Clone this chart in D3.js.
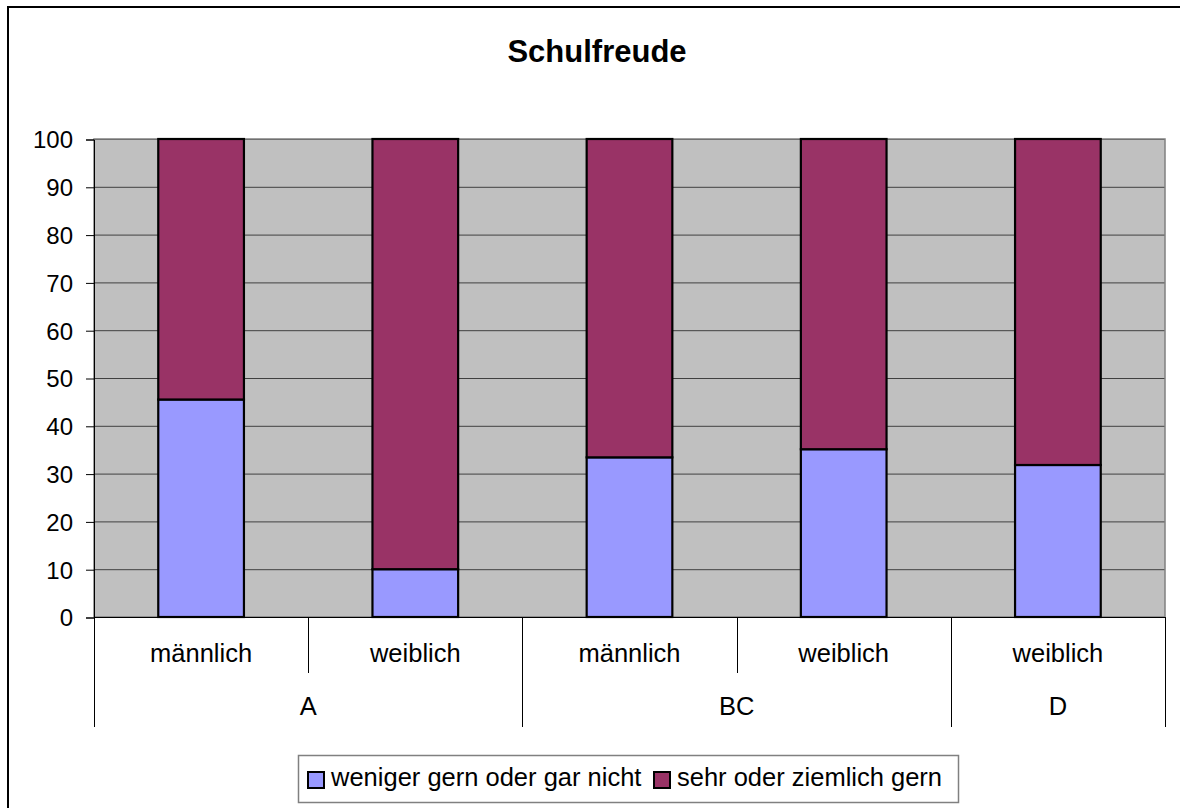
<!DOCTYPE html>
<html><head><meta charset="utf-8">
<script src="https://cdn.jsdelivr.net/npm/d3@7"></script>
<style>body{margin:0;background:#fff}svg{display:block}text{font-family:"Liberation Sans",Arial,sans-serif}</style>
</head><body>
<script>
const title = "Schulfreude";
const categories = ["männlich","weiblich","männlich","weiblich","weiblich"];
const groups = ["A","A","BC","BC","D"];
const seriesNames = ["weniger gern oder gar nicht","sehr oder ziemlich gern"];
const weniger = [45.5, 10, 33.4, 35.1, 31.8];
const sehr = [54.5, 90, 66.6, 64.9, 68.2];
const yTicks = [0,10,20,30,40,50,60,70,80,90,100];
const colors = ["#9999FF","#993366"];

const W = 1180, H = 808;
const svg = d3.select("body").append("svg").attr("width", W).attr("height", H);
svg.append("rect").attr("width", W).attr("height", H).attr("fill", "#fff");
svg.append("rect").attr("x", 8).attr("y", 7).attr("width", W + 10).attr("height", H + 10)
  .attr("fill", "none").attr("stroke", "#000").attr("stroke-width", 2);

const L = 94, R = 1165, T = 139, B = 617;
const x = d3.scaleBand().domain(d3.range(categories.length)).range([L, R]).padding(0);
const y = d3.scaleLinear().domain([0, 100]).range([B, T]);

svg.append("text").attr("x", 597).attr("y", 62).attr("text-anchor", "middle")
  .attr("font-size", 31).attr("font-weight", "bold").text(title);

svg.append("rect").attr("x", L).attr("y", T).attr("width", R - L).attr("height", B - T)
  .attr("fill", "#C0C0C0");

// gridlines
svg.append("g").selectAll("line").data(yTicks).join("line")
  .attr("x1", L).attr("x2", R).attr("y1", d => y(d) + 0.5).attr("y2", d => y(d) + 0.5)
  .attr("stroke", "#404040").attr("stroke-width", 1);

svg.append("rect").attr("x", L).attr("y", T).attr("width", R - L).attr("height", B - T)
  .attr("fill", "none").attr("stroke", "#808080").attr("stroke-width", 1.5);

// y axis
const yAxis = d3.axisLeft(y).tickValues(yTicks).tickSize(8).tickPadding(13);
const ya = svg.append("g").attr("transform", `translate(${L},0.5)`).call(yAxis);
ya.select(".domain").attr("stroke", "#000");
ya.selectAll(".tick line").attr("stroke", "#000");
ya.selectAll("text").attr("font-size", 24).attr("fill", "#000")
  .attr("font-family", "Liberation Sans, Arial, sans-serif").attr("dy", "0.35em");

// stacked bars
const stackData = categories.map((c, i) => ({i, a: weniger[i], b: sehr[i]}));
const stack = d3.stack().keys(["a","b"])(stackData);
const bw = x.bandwidth() * 0.4;
stack.forEach((layer, k) => {
  svg.append("g").selectAll("rect").data(layer).join("rect")
    .attr("x", d => x(d.data.i) + (x.bandwidth() - bw) / 2)
    .attr("y", d => y(d[1]))
    .attr("width", bw)
    .attr("height", d => y(d[0]) - y(d[1]))
    .attr("fill", colors[k]).attr("stroke", "#000").attr("stroke-width", 2.2);
});

// x axis line
svg.append("line").attr("x1", L).attr("x2", R).attr("y1", B + 0.5).attr("y2", B + 0.5)
  .attr("stroke", "#000").attr("stroke-width", 1);

// category labels
svg.append("g").selectAll("text").data(categories).join("text")
  .attr("x", (d, i) => x(i) + x.bandwidth() / 2).attr("y", 662)
  .attr("text-anchor", "middle").attr("font-size", 25.5).text(d => d);

// group spans
const groupSpans = [];
groups.forEach((g, i) => {
  const last = groupSpans[groupSpans.length - 1];
  if (last && last.name === g) last.end = i; else groupSpans.push({name: g, start: i, end: i});
});
svg.append("g").selectAll("text").data(groupSpans).join("text")
  .attr("x", d => (x(d.start) + x(d.end) + x.bandwidth()) / 2).attr("y", 715)
  .attr("text-anchor", "middle").attr("font-size", 25.5).text(d => d.name);

// separators
const catSeps = [];
for (let i = 1; i < categories.length; i++) if (groups[i] === groups[i - 1]) catSeps.push(i);
svg.append("g").selectAll("line").data(catSeps).join("line")
  .attr("x1", d => Math.round(x(d)) + 0.5).attr("x2", d => Math.round(x(d)) + 0.5)
  .attr("y1", B).attr("y2", 673).attr("stroke", "#000").attr("stroke-width", 1);
const grpSeps = groupSpans.map(g => g.start).concat([categories.length]);
svg.append("g").selectAll("line").data(grpSeps).join("line")
  .attr("x1", d => (d === categories.length ? R : Math.round(x(d))) + 0.5)
  .attr("x2", d => (d === categories.length ? R : Math.round(x(d))) + 0.5)
  .attr("y1", B).attr("y2", 727).attr("stroke", "#000").attr("stroke-width", 1);

// legend
const lg = svg.append("g");
lg.append("rect").attr("x", 298.5).attr("y", 755.5).attr("width", 660).attr("height", 47)
  .attr("fill", "#fff").attr("stroke", "#808080").attr("stroke-width", 1.5);
const legX = [308, 654];
seriesNames.forEach((s, k) => {
  lg.append("rect").attr("x", legX[k]).attr("y", 772).attr("width", 16).attr("height", 16)
    .attr("fill", colors[k]).attr("stroke", "#000").attr("stroke-width", 2);
  lg.append("text").attr("x", legX[k] + 23).attr("y", 786).attr("font-size", 25.5).text(s);
});
</script>
</body></html>
